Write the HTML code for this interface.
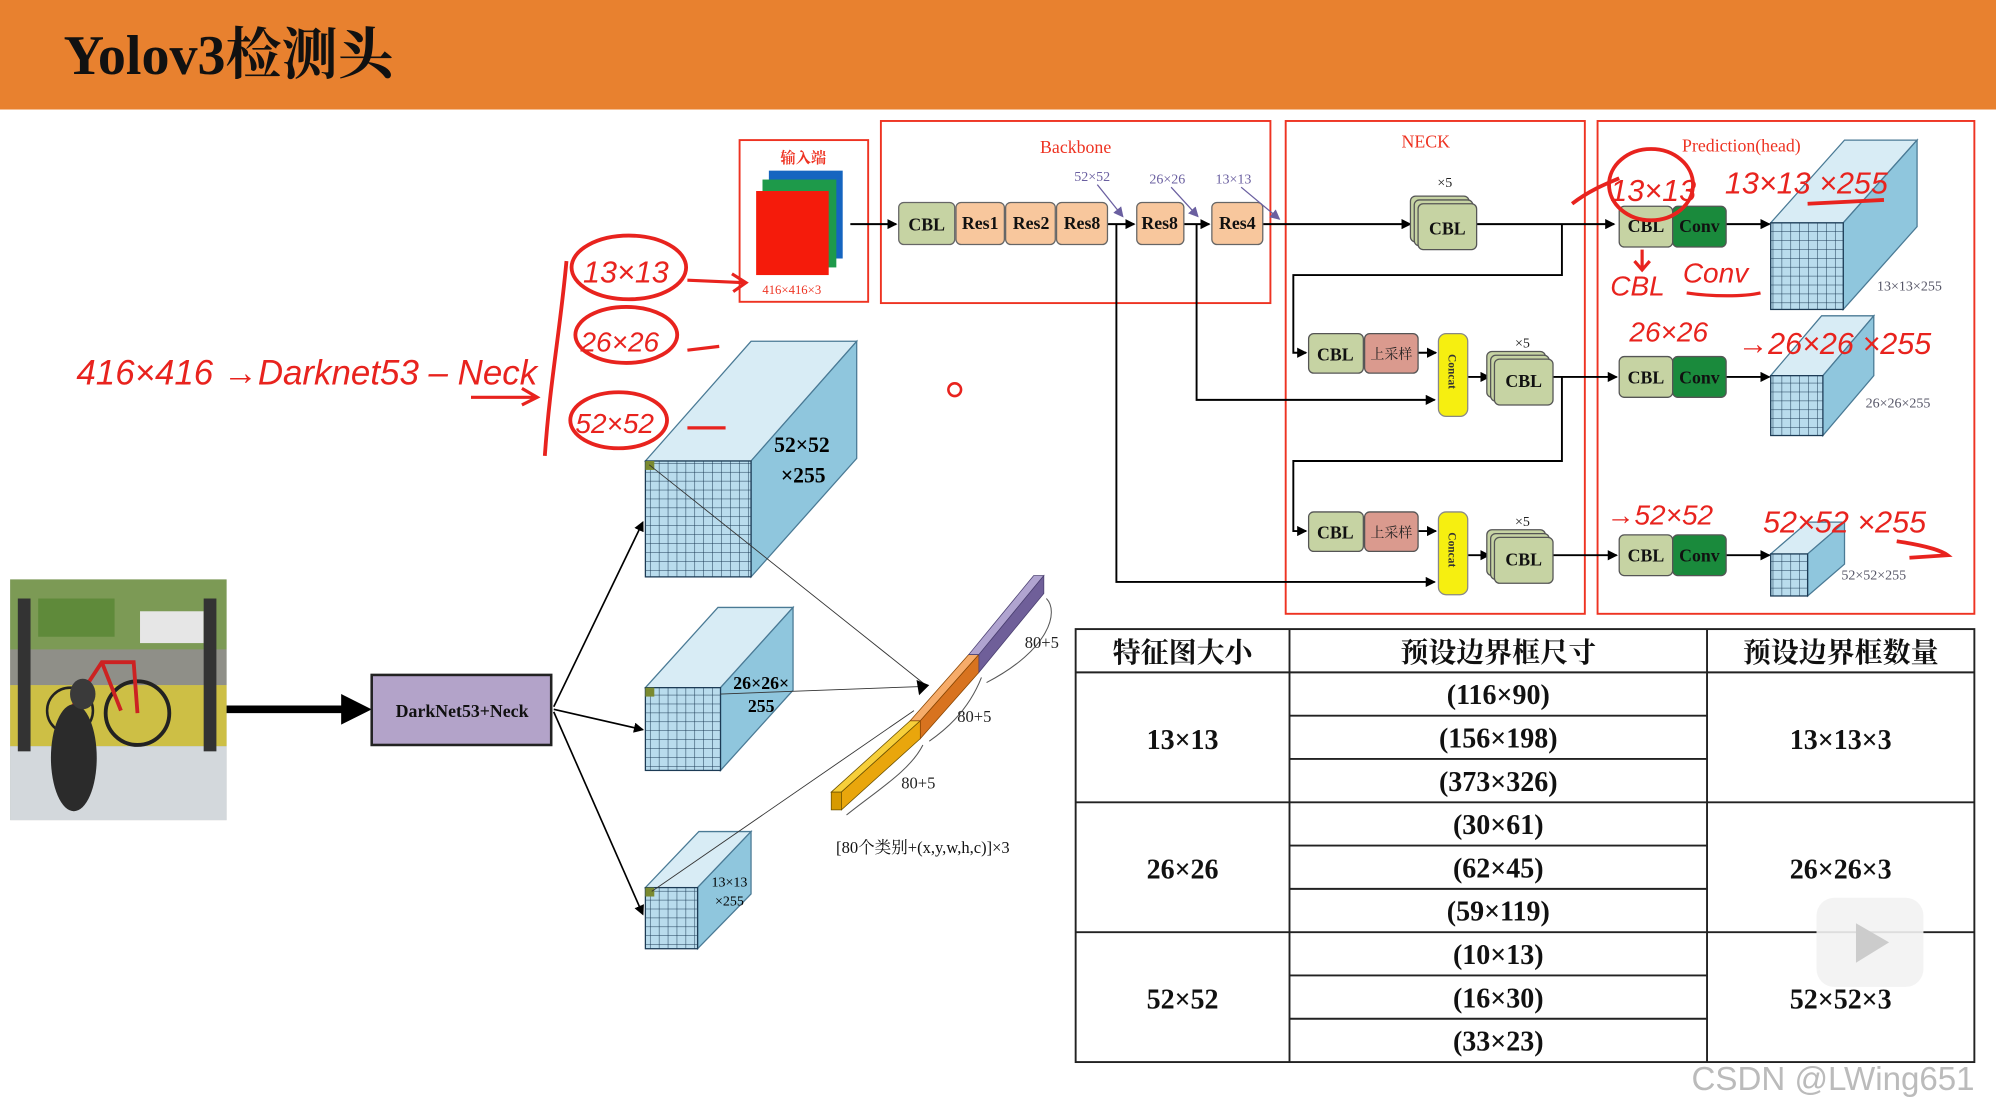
<!DOCTYPE html>
<html><head><meta charset="utf-8"><style>
html,body{margin:0;padding:0;background:#fff;}
svg{display:block;}
text{font-family:"Liberation Serif","Noto Serif CJK SC",serif;}
.hw{font-family:"Liberation Sans","Noto Sans CJK SC",sans-serif;fill:#e8231e;font-style:italic;}
</style></head><body>
<svg width="1996" height="1113" viewBox="0 0 1568 874" preserveAspectRatio="none" xmlns="http://www.w3.org/2000/svg">
<defs>
<marker id="a" markerWidth="8" markerHeight="8" refX="7" refY="4" orient="auto" markerUnits="userSpaceOnUse"><path d="M0,0 L8,4 L0,8 z" fill="#000"/></marker>
<marker id="ap" markerWidth="8" markerHeight="8" refX="7" refY="4" orient="auto" markerUnits="userSpaceOnUse"><path d="M0,0 L8,4 L0,8 z" fill="#6a5fa0"/></marker>
<pattern id="g" width="7" height="7" patternUnits="userSpaceOnUse"><rect width="7" height="7" fill="#b9dced"/><path d="M7,0 V7 H0" fill="none" stroke="#1c3b55" stroke-width="0.8"/></pattern>
</defs>
<rect x="0" y="0" width="1568" height="86" fill="#e8812f"/>
<text x="50" y="58" font-size="44" font-weight="bold" fill="#111">Yolov3检测头</text>

<!-- input -->
<rect x="581" y="110" width="101" height="127" fill="none" stroke="#e32" stroke-width="1.5"/>
<text x="631" y="128" font-size="12" fill="#e32" text-anchor="middle" font-weight="bold">输入端</text>
<rect x="604" y="134" width="58" height="69" fill="#1565c0"/>
<rect x="599" y="141" width="58" height="69" fill="#1e9a4a"/>
<rect x="594" y="150" width="57" height="66" fill="#f51b0b"/>
<text x="622" y="231" font-size="10" fill="#e32" text-anchor="middle">416×416×3</text>

<!-- boxes -->
<rect x="692" y="95" width="306" height="143" fill="none" stroke="#e32" stroke-width="1.5"/>
<text x="845" y="120" font-size="14" fill="#e32" text-anchor="middle">Backbone</text>
<rect x="1010" y="95" width="235" height="387" fill="none" stroke="#e32" stroke-width="1.5"/>
<text x="1120" y="116" font-size="14" fill="#e32" text-anchor="middle">NECK</text>
<rect x="1255" y="95" width="296" height="387" fill="none" stroke="#e32" stroke-width="1.5"/>
<text x="1368" y="119" font-size="14" fill="#e32" text-anchor="middle">Prediction(head)</text>

<g stroke="#000" stroke-width="1.5" fill="none">
<line x1="668" y1="176" x2="704" y2="176" marker-end="url(#a)"/>
<line x1="870" y1="176" x2="891" y2="176" marker-end="url(#a)"/>
<line x1="930" y1="176" x2="950" y2="176" marker-end="url(#a)"/>
<line x1="992" y1="176" x2="1108" y2="176" marker-end="url(#a)"/>
<line x1="1160" y1="176" x2="1268" y2="176" marker-end="url(#a)"/>
<polyline points="1227,176 1227,216 1016,216 1016,277 1026,277" marker-end="url(#a)"/>
<polyline points="940,176 940,314 1127,314" marker-end="url(#a)"/>
<polyline points="877,176 877,457 1127,457" marker-end="url(#a)"/>
<line x1="1114" y1="277" x2="1128" y2="277" marker-end="url(#a)"/>
<line x1="1153" y1="296" x2="1170" y2="296" marker-end="url(#a)"/>
<line x1="1220" y1="296" x2="1270" y2="296" marker-end="url(#a)"/>
<polyline points="1227,296 1227,362 1016,362 1016,417 1026,417" marker-end="url(#a)"/>
<line x1="1114" y1="417" x2="1128" y2="417" marker-end="url(#a)"/>
<line x1="1153" y1="436" x2="1170" y2="436" marker-end="url(#a)"/>
<line x1="1220" y1="436" x2="1270" y2="436" marker-end="url(#a)"/>
<line x1="1356" y1="176" x2="1390" y2="176" marker-end="url(#a)"/>
<line x1="1356" y1="296" x2="1390" y2="296" marker-end="url(#a)"/>
<line x1="1356" y1="436" x2="1390" y2="436" marker-end="url(#a)"/>
</g>

<!-- backbone blocks -->
<g stroke="#666" stroke-width="1">
<rect x="706" y="159" width="44" height="33" rx="4" fill="#c6d3a3"/>
<rect x="751" y="159" width="38" height="33" rx="4" fill="#f8c79d"/>
<rect x="790" y="159" width="39" height="33" rx="4" fill="#f8c79d"/>
<rect x="830" y="159" width="40" height="33" rx="4" fill="#f8c79d"/>
<rect x="893" y="159" width="37" height="33" rx="4" fill="#f8c79d"/>
<rect x="952" y="159" width="40" height="33" rx="4" fill="#f8c79d"/>
</g>
<g font-size="14" font-weight="bold" text-anchor="middle" fill="#111">
<text x="728" y="181">CBL</text><text x="770" y="180">Res1</text><text x="810" y="180">Res2</text><text x="850" y="180">Res8</text><text x="911" y="180">Res8</text><text x="972" y="180">Res4</text>
</g>
<g font-size="11" fill="#6a5fa0" text-anchor="middle">
<text x="858" y="142">52×52</text><text x="917" y="144">26×26</text><text x="969" y="144">13×13</text>
</g>
<g stroke="#6a5fa0" stroke-width="1"><line x1="862" y1="145" x2="882" y2="170" marker-end="url(#ap)"/><line x1="920" y1="147" x2="941" y2="170" marker-end="url(#ap)"/><line x1="975" y1="147" x2="1005" y2="172" marker-end="url(#ap)"/></g>

<!-- neck stacks -->
<g stroke="#555" stroke-width="1" fill="#c6d3a3">
<rect x="1108" y="154" width="46" height="36" rx="4"/><rect x="1111" y="157" width="46" height="36" rx="4"/><rect x="1114" y="160" width="46" height="36" rx="4"/>
<rect x="1168" y="276" width="46" height="36" rx="4"/><rect x="1171" y="279" width="46" height="36" rx="4"/><rect x="1174" y="282" width="46" height="36" rx="4"/>
<rect x="1168" y="416" width="46" height="36" rx="4"/><rect x="1171" y="419" width="46" height="36" rx="4"/><rect x="1174" y="422" width="46" height="36" rx="4"/>
<rect x="1028" y="262" width="43" height="31" rx="4"/><rect x="1028" y="402" width="43" height="31" rx="4"/>
<rect x="1272" y="162" width="42" height="32" rx="4"/><rect x="1272" y="280" width="42" height="32" rx="4"/><rect x="1272" y="420" width="42" height="32" rx="4"/>
</g>
<g stroke="#555" fill="#da9a8e"><rect x="1072" y="262" width="42" height="31" rx="4"/><rect x="1072" y="402" width="42" height="31" rx="4"/></g>
<g stroke="#555" fill="#1a8a3c"><rect x="1314" y="162" width="42" height="32" rx="4"/><rect x="1314" y="280" width="42" height="32" rx="4"/><rect x="1314" y="420" width="42" height="32" rx="4"/></g>
<g stroke="#888" fill="#f6ef10"><rect x="1130" y="262" width="23" height="65" rx="6"/><rect x="1130" y="402" width="23" height="65" rx="6"/></g>
<g font-size="14" font-weight="bold" text-anchor="middle" fill="#111">
<text x="1137" y="184">CBL</text><text x="1197" y="304">CBL</text><text x="1197" y="444">CBL</text>
<text x="1049" y="283">CBL</text><text x="1049" y="423">CBL</text>
<text x="1293" y="182">CBL</text><text x="1293" y="301">CBL</text><text x="1293" y="441">CBL</text>
<text x="1335" y="182">Conv</text><text x="1335" y="301">Conv</text><text x="1335" y="441">Conv</text>
</g>
<g font-size="11" text-anchor="middle" fill="#222"><text x="1093" y="282">上采样</text><text x="1093" y="422">上采样</text>
<text x="1135" y="147">×5</text><text x="1196" y="273">×5</text><text x="1196" y="413">×5</text></g>
<g font-size="9" font-weight="bold" fill="#333"><text transform="translate(1138,278) rotate(90)">Concat</text><text transform="translate(1138,418) rotate(90)">Concat</text></g>

<!-- head cubes -->
<polygon points="1391,175 1448,175 1506,110 1449,110" fill="#d8ecf5" stroke="#4a7a95"/>
<polygon points="1448,175 1506,110 1506,178 1448,243" fill="#8fc6dd" stroke="#4a7a95"/>
<rect x="1391" y="175" width="57" height="68" fill="url(#g)" stroke="#1c3b55"/>
<text x="1500" y="228" font-size="11" fill="#556" text-anchor="middle">13×13×255</text>
<polygon points="1391,295 1432,295 1472,248 1431,248" fill="#d8ecf5" stroke="#4a7a95"/>
<polygon points="1432,295 1472,248 1472,295 1432,342" fill="#8fc6dd" stroke="#4a7a95"/>
<rect x="1391" y="295" width="41" height="47" fill="url(#g)" stroke="#1c3b55"/>
<text x="1491" y="320" font-size="11" fill="#556" text-anchor="middle">26×26×255</text>
<polygon points="1391,435 1420,435 1449,410 1420,410" fill="#d8ecf5" stroke="#4a7a95"/>
<polygon points="1420,435 1449,410 1449,443 1420,468" fill="#8fc6dd" stroke="#4a7a95"/>
<rect x="1391" y="435" width="29" height="33" fill="url(#g)" stroke="#1c3b55"/>
<text x="1472" y="455" font-size="11" fill="#556" text-anchor="middle">52×52×255</text>

<!-- photo -->
<rect x="8" y="455" width="170" height="189" fill="#a8aea6"/>
<rect x="8" y="455" width="170" height="55" fill="#7c9a55"/>
<rect x="30" y="470" width="60" height="30" fill="#5f8a3a"/>
<rect x="110" y="480" width="50" height="25" fill="#e6e6e6"/>
<rect x="8" y="510" width="170" height="28" fill="#8f8f88"/>
<rect x="8" y="538" width="170" height="48" fill="#cdbf45"/>
<rect x="8" y="586" width="170" height="58" fill="#d3d8dc"/>
<rect x="14" y="470" width="10" height="120" fill="#333"/>
<rect x="160" y="470" width="10" height="120" fill="#333"/>
<circle cx="108" cy="560" r="25" fill="none" stroke="#222" stroke-width="3"/>
<circle cx="55" cy="558" r="18" fill="none" stroke="#222" stroke-width="2"/>
<path d="M55,558 L80,520 L105,520 L108,560 M80,520 L95,558" stroke="#c22" stroke-width="3" fill="none"/>
<ellipse cx="58" cy="595" rx="18" ry="42" fill="#2b2b2b"/>
<ellipse cx="65" cy="545" rx="10" ry="12" fill="#3a3a3a"/>

<line x1="178" y1="557" x2="272" y2="557" stroke="#000" stroke-width="6"/>
<polygon points="268,545 292,557 268,569" fill="#000"/>
<rect x="292" y="530" width="141" height="55" fill="#b3a3c9" stroke="#222" stroke-width="2"/>
<text x="363" y="563" font-size="14" font-weight="bold" text-anchor="middle" fill="#111">DarkNet53+Neck</text>
<g stroke="#000" stroke-width="1.3"><line x1="435" y1="555" x2="505" y2="410" marker-end="url(#a)"/><line x1="435" y1="557" x2="505" y2="573" marker-end="url(#a)"/><line x1="435" y1="559" x2="505" y2="718" marker-end="url(#a)"/></g>

<polygon points="507,362 590,362 673,268 590,268" fill="#d8ecf5" stroke="#4a7a95"/>
<polygon points="590,362 673,268 673,360 590,453" fill="#8fc6dd" stroke="#4a7a95"/>
<rect x="507" y="362" width="83" height="91" fill="url(#g)" stroke="#1c3b55"/>
<rect x="507" y="362" width="7" height="7" fill="#7a8a30"/>
<text x="630" y="355" font-size="17" font-weight="bold" text-anchor="middle">52×52</text><text x="631" y="379" font-size="17" font-weight="bold" text-anchor="middle">×255</text>
<polygon points="507,540 566,540 623,477 564,477" fill="#d8ecf5" stroke="#4a7a95"/>
<polygon points="566,540 623,477 623,542 566,605" fill="#8fc6dd" stroke="#4a7a95"/>
<rect x="507" y="540" width="59" height="65" fill="url(#g)" stroke="#1c3b55"/>
<rect x="507" y="540" width="7" height="7" fill="#7a8a30"/>
<text x="598" y="541" font-size="14" font-weight="bold" text-anchor="middle">26×26×</text><text x="598" y="559" font-size="14" font-weight="bold" text-anchor="middle">255</text>
<polygon points="507,697 548,697 590,653 549,653" fill="#d8ecf5" stroke="#4a7a95"/>
<polygon points="548,697 590,653 590,702 548,745" fill="#8fc6dd" stroke="#4a7a95"/>
<rect x="507" y="697" width="41" height="48" fill="url(#g)" stroke="#1c3b55"/>
<rect x="507" y="697" width="7" height="7" fill="#7a8a30"/>
<text x="573" y="696" font-size="11" text-anchor="middle">13×13</text><text x="573" y="711" font-size="11" text-anchor="middle">×255</text>
<g stroke="#333" stroke-width="0.7"><line x1="510" y1="365" x2="726" y2="537"/><line x1="566" y1="545" x2="726" y2="539"/><line x1="512" y1="700" x2="718" y2="558"/></g>
<polygon points="720,534 730,538 722,546" fill="#000"/>

<!-- vector bar -->
<polygon points="653,622 715,566 723,566 661,622" fill="#f7cf3a" stroke="#6a5000" stroke-width="0.6"/>
<polygon points="653,622 661,622 661,636 653,636" fill="#d79a00" stroke="#6a5000" stroke-width="0.6"/>
<polygon points="661,622 723,566 723,580 661,636" fill="#e9a60c" stroke="#6a5000" stroke-width="0.6"/>
<polygon points="715,566 761,514 769,514 723,566" fill="#f6ac6a" stroke="#884400" stroke-width="0.6"/>
<polygon points="723,566 769,514 769,528 723,580" fill="#d8731f" stroke="#884400" stroke-width="0.6"/>
<polygon points="761,514 812,452 820,452 769,514" fill="#b0a4d0" stroke="#4a3f70" stroke-width="0.6"/>
<polygon points="769,514 820,452 820,466 769,528" fill="#6f5f99" stroke="#4a3f70" stroke-width="0.6"/>
<g stroke="#555" stroke-width="0.8" fill="none"><path d="M822,470 C832,480 825,510 775,536"/><path d="M771,532 C760,560 740,575 730,582"/><path d="M725,585 C715,605 690,620 665,640"/></g>
<g font-size="13" fill="#222"><text x="805" y="509">80+5</text><text x="752" y="567">80+5</text><text x="708" y="619">80+5</text></g>
<text x="725" y="670" font-size="13" text-anchor="middle" fill="#111">[80个类别+(x,y,w,h,c)]×3</text>

<!-- table -->
<g stroke="#222" stroke-width="1.5" fill="none">
<rect x="845" y="494" width="706" height="340"/>
<line x1="845" y1="528" x2="1551" y2="528"/>
<line x1="1013" y1="494" x2="1013" y2="834"/><line x1="1341" y1="494" x2="1341" y2="834"/>
<line x1="845" y1="630" x2="1551" y2="630"/><line x1="845" y1="732" x2="1551" y2="732"/>
<line x1="1013" y1="562" x2="1341" y2="562"/><line x1="1013" y1="596" x2="1341" y2="596"/>
<line x1="1013" y1="664" x2="1341" y2="664"/><line x1="1013" y1="698" x2="1341" y2="698"/>
<line x1="1013" y1="766" x2="1341" y2="766"/><line x1="1013" y1="800" x2="1341" y2="800"/>
</g>
<g font-size="22" font-weight="bold" text-anchor="middle" fill="#111">
<text x="929" y="520">特征图大小</text><text x="1177" y="520">预设边界框尺寸</text><text x="1446" y="520">预设边界框数量</text>
<text x="929" y="588">13×13</text><text x="929" y="690">26×26</text><text x="929" y="792">52×52</text>
<text x="1446" y="588">13×13×3</text><text x="1446" y="690">26×26×3</text><text x="1446" y="792">52×52×3</text>
<text x="1177" y="553">(116×90)</text><text x="1177" y="587">(156×198)</text><text x="1177" y="621">(373×326)</text>
<text x="1177" y="655">(30×61)</text><text x="1177" y="689">(62×45)</text><text x="1177" y="723">(59×119)</text>
<text x="1177" y="757">(10×13)</text><text x="1177" y="791">(16×30)</text><text x="1177" y="825">(33×23)</text>
</g>
<rect x="1427" y="705" width="84" height="70" rx="14" fill="#f2f2f2" opacity="0.9"/>
<polygon points="1458,725 1484,740 1458,756" fill="#ccc"/>
<text x="1440" y="856" font-size="26" fill="#bbb" text-anchor="middle" style="font-family:'Liberation Sans',sans-serif">CSDN @LWing651</text>

<!-- handwriting -->
<text x="60" y="302" font-size="28" class="hw" textLength="362" lengthAdjust="spacingAndGlyphs">416×416 →Darknet53 – Neck</text>
<path d="M370,312 L420,312 M410,305 L422,312 L410,318" stroke="#e8231e" stroke-width="2.5" fill="none"/>
<path d="M445,205 C440,260 432,300 428,358" stroke="#e8231e" stroke-width="3" fill="none"/>
<ellipse cx="494" cy="210" rx="45" ry="25" fill="none" stroke="#e8231e" stroke-width="3"/>
<ellipse cx="492" cy="263" rx="40" ry="22" fill="none" stroke="#e8231e" stroke-width="3"/>
<ellipse cx="486" cy="330" rx="38" ry="22" fill="none" stroke="#e8231e" stroke-width="3"/>
<text x="458" y="222" font-size="24" class="hw">13×13</text>
<text x="456" y="276" font-size="22" class="hw">26×26</text>
<text x="452" y="340" font-size="22" class="hw">52×52</text>
<path d="M540,220 L585,222 M575,215 L586,222 L576,229" stroke="#e8231e" stroke-width="2.5" fill="none"/>
<path d="M540,275 L565,272 M540,336 L570,336" stroke="#e8231e" stroke-width="2.5" fill="none"/>
<ellipse cx="1297" cy="145" rx="33" ry="28" fill="none" stroke="#e8231e" stroke-width="3"/>
<path d="M1235,160 C1248,150 1260,145 1272,140" stroke="#e8231e" stroke-width="3" fill="none"/>
<text x="1265" y="158" font-size="24" class="hw">13×13</text>
<text x="1355" y="152" font-size="24" class="hw">13×13 ×255</text>
<path d="M1420,160 L1480,157" stroke="#e8231e" stroke-width="3"/>
<text x="1265" y="232" font-size="22" class="hw">CBL</text><text x="1322" y="222" font-size="22" class="hw">Conv</text>
<path d="M1290,196 L1290,210 M1284,205 L1290,212 L1296,205 M1325,230 C1345,233 1370,233 1383,230" stroke="#e8231e" stroke-width="2.5" fill="none"/>
<text x="1280" y="268" font-size="22" class="hw">26×26</text>
<text x="1365" y="278" font-size="24" class="hw">→26×26 ×255</text>
<text x="1262" y="412" font-size="22" class="hw">→52×52</text>
<text x="1385" y="418" font-size="24" class="hw">52×52 ×255</text>
<path d="M1490,425 C1510,428 1525,432 1530,436 L1500,438" stroke="#e8231e" stroke-width="3" fill="none"/>
<ellipse cx="750" cy="306" rx="5" ry="5" fill="none" stroke="#e8231e" stroke-width="2"/>
</svg>
</body></html>
